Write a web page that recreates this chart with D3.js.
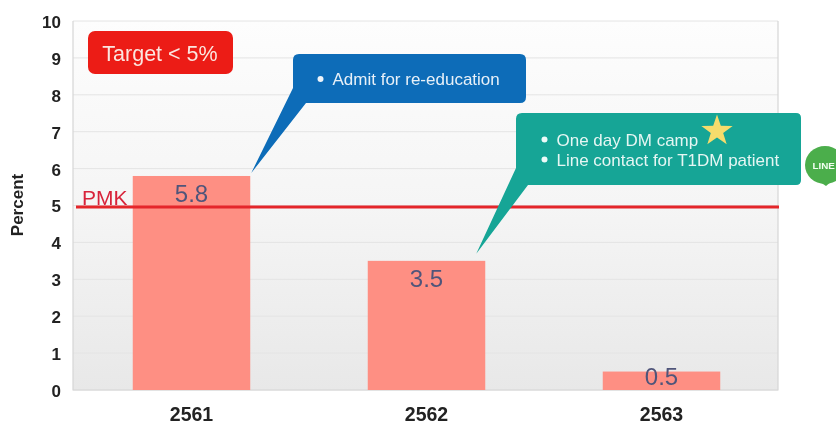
<!DOCTYPE html>
<html><head><meta charset="utf-8">
<script src="https://cdnjs.cloudflare.com/ajax/libs/d3/7.8.5/d3.min.js"></script>
<style>html,body{margin:0;padding:0;background:#fff}svg{display:block;font-family:"Liberation Sans",Arial,sans-serif}</style>
</head><body><svg id="c" width="836" height="426"></svg>
<script>
const years = ["2561","2562","2563"];
const percents = [5.8,3.5,0.5];
const yTicks = [0,1,2,3,4,5,6,7,8,9,10];
const targetValue = 5;
const refLabel = "PMK";
const targetLabel = "Target < 5%";
const note1 = ["Admit for re-education"];
const note2 = ["One day DM camp","Line contact for T1DM patient"];
const yTitle = "Percent";

const svg = d3.select("#c");
const L=73,R=778,T=21,B=390;
const x = d3.scaleBand().domain(years).range([L+1,R+1]).paddingInner(0.5).paddingOuter(0.25);
const y = d3.scaleLinear().domain([0,10]).range([B,T]);

const defs = svg.append("defs");
const g = defs.append("linearGradient").attr("id","bg").attr("x1",0).attr("x2",0).attr("y1",0).attr("y2",1);
g.append("stop").attr("offset","0%").attr("stop-color","#fdfdfd");
g.append("stop").attr("offset","50%").attr("stop-color","#f5f5f5");
g.append("stop").attr("offset","100%").attr("stop-color","#e8e8e8");
defs.append("filter").attr("id","soft").append("feGaussianBlur").attr("stdDeviation",0.55);

const root = svg.append("g").attr("filter","url(#soft)");
root.append("rect").attr("x",L).attr("y",T).attr("width",R-L).attr("height",B-T).attr("fill","url(#bg)");
root.selectAll("line.grid").data(yTicks).join("line").attr("class","grid")
  .attr("x1",L).attr("x2",R).attr("y1",d=>y(d)).attr("y2",d=>y(d))
  .attr("stroke","#e4e4e4").attr("stroke-width",1);
root.append("path").attr("d",`M${L},${T}V${B}H${R}V${T}`).attr("fill","none").attr("stroke","#d6d6d6").attr("stroke-width",1.2);

root.selectAll("rect.bar").data(percents).join("rect").attr("class","bar")
  .attr("x",(d,i)=>x(years[i])).attr("width",x.bandwidth())
  .attr("y",d=>y(d)).attr("height",d=>B-y(d)).attr("fill","#fe8f83");

root.append("line").attr("x1",L+3).attr("x2",R+1).attr("y1",y(targetValue)+1.5).attr("y2",y(targetValue)+1.5)
  .attr("stroke","#e4252c").attr("stroke-width",2.8);

root.append("text").attr("x",82).attr("y",205).attr("font-size",21).attr("fill","#d8243a").text(refLabel);

root.selectAll("text.val").data(percents).join("text").attr("class","val")
  .attr("x",(d,i)=>x(years[i])+x.bandwidth()/2).attr("y",d=>Math.min(y(d)+26,B-5))
  .attr("text-anchor","middle").attr("font-size",24).attr("fill","#50557a").text(d=>d);

const yAxis = d3.axisLeft(y).tickValues(yTicks).tickSize(0).tickPadding(12);
const ya = root.append("g").attr("transform",`translate(${L},1)`).call(yAxis);
ya.select(".domain").remove();
ya.selectAll("text").attr("font-size",17).attr("font-weight","700").attr("fill","#222").attr("font-family","'Liberation Sans',Arial,sans-serif");
const xAxis = d3.axisBottom(x).tickSize(0).tickPadding(17);
const xa = root.append("g").attr("transform",`translate(0,${B})`).call(xAxis);
xa.select(".domain").remove();
xa.selectAll("text").attr("font-size",19.5).attr("font-weight","700").attr("fill","#222").attr("font-family","'Liberation Sans',Arial,sans-serif");

root.append("text").attr("transform","translate(23,205) rotate(-90)").attr("text-anchor","middle")
  .attr("font-size",17).attr("font-weight","700").attr("fill","#222").text(yTitle);

// Target badge
root.append("rect").attr("x",88).attr("y",31).attr("width",145).attr("height",43).attr("rx",7).attr("fill","#ec1c16");
root.append("text").attr("x",160).attr("y",61).attr("text-anchor","middle").attr("font-size",21.5).attr("fill","#fbe6e0").text(targetLabel);

// Blue callout: anchored to the top-right corner of the first bar
const tip1=[x(years[0])+x.bandwidth()+1, y(percents[0])-3];
root.append("path").attr("d",`M299,54H520Q526,54 526,60V97Q526,103 520,103H306L${tip1[0]},${tip1[1]}L293,88V60Q293,54 299,54Z`).attr("fill","#0b6cb8");
root.selectAll("circle.n1").data(note1).join("circle").attr("class","n1").attr("cx",320.5).attr("cy",79).attr("r",3).attr("fill","#eef4fa");
root.selectAll("text.n1").data(note1).join("text").attr("class","n1").attr("x",332.5).attr("y",84.5).attr("font-size",17).attr("fill","#e8f0f8").text(d=>d);

// Teal callout: anchored to the top of the second bar
const tip2=[x(years[1])+x.bandwidth()-9, y(percents[1])-7];
root.append("path").attr("d",`M522,113H796Q801,113 801,118V180Q801,185 796,185H528L${tip2[0]},${tip2[1]}L516,168V119Q516,113 522,113Z`).attr("fill","#13a596");
root.selectAll("circle.n2").data(note2).join("circle").attr("class","n2").attr("cx",544.5).attr("cy",(d,i)=>139.5+i*20).attr("r",3).attr("fill","#eefaf8");
root.selectAll("text.n2").data(note2).join("text").attr("class","n2").attr("x",556.5).attr("y",(d,i)=>145.5+i*20).attr("font-size",17).attr("fill","#e6f6f3").text(d=>d);

// Star
const star = d3.range(10).map(i=>{const r=i%2?6.5:16.5,a=-Math.PI/2+i*Math.PI/5;return [717+r*Math.cos(a),131+r*Math.sin(a)];});
root.append("path").attr("d",d3.line()(star)+"Z").attr("fill","#f6dc6c");

// LINE icon
root.append("ellipse").attr("cx",825).attr("cy",165).attr("rx",20).attr("ry",19).attr("fill","#4cae4c");
root.append("path").attr("d","M820,182L826,186L832,181Z").attr("fill","#4cae4c");
root.append("text").attr("x",812.5).attr("y",169).attr("font-size",9.8).attr("font-weight","700").attr("fill","#f2fff0").text("LINE");
</script></body></html>
